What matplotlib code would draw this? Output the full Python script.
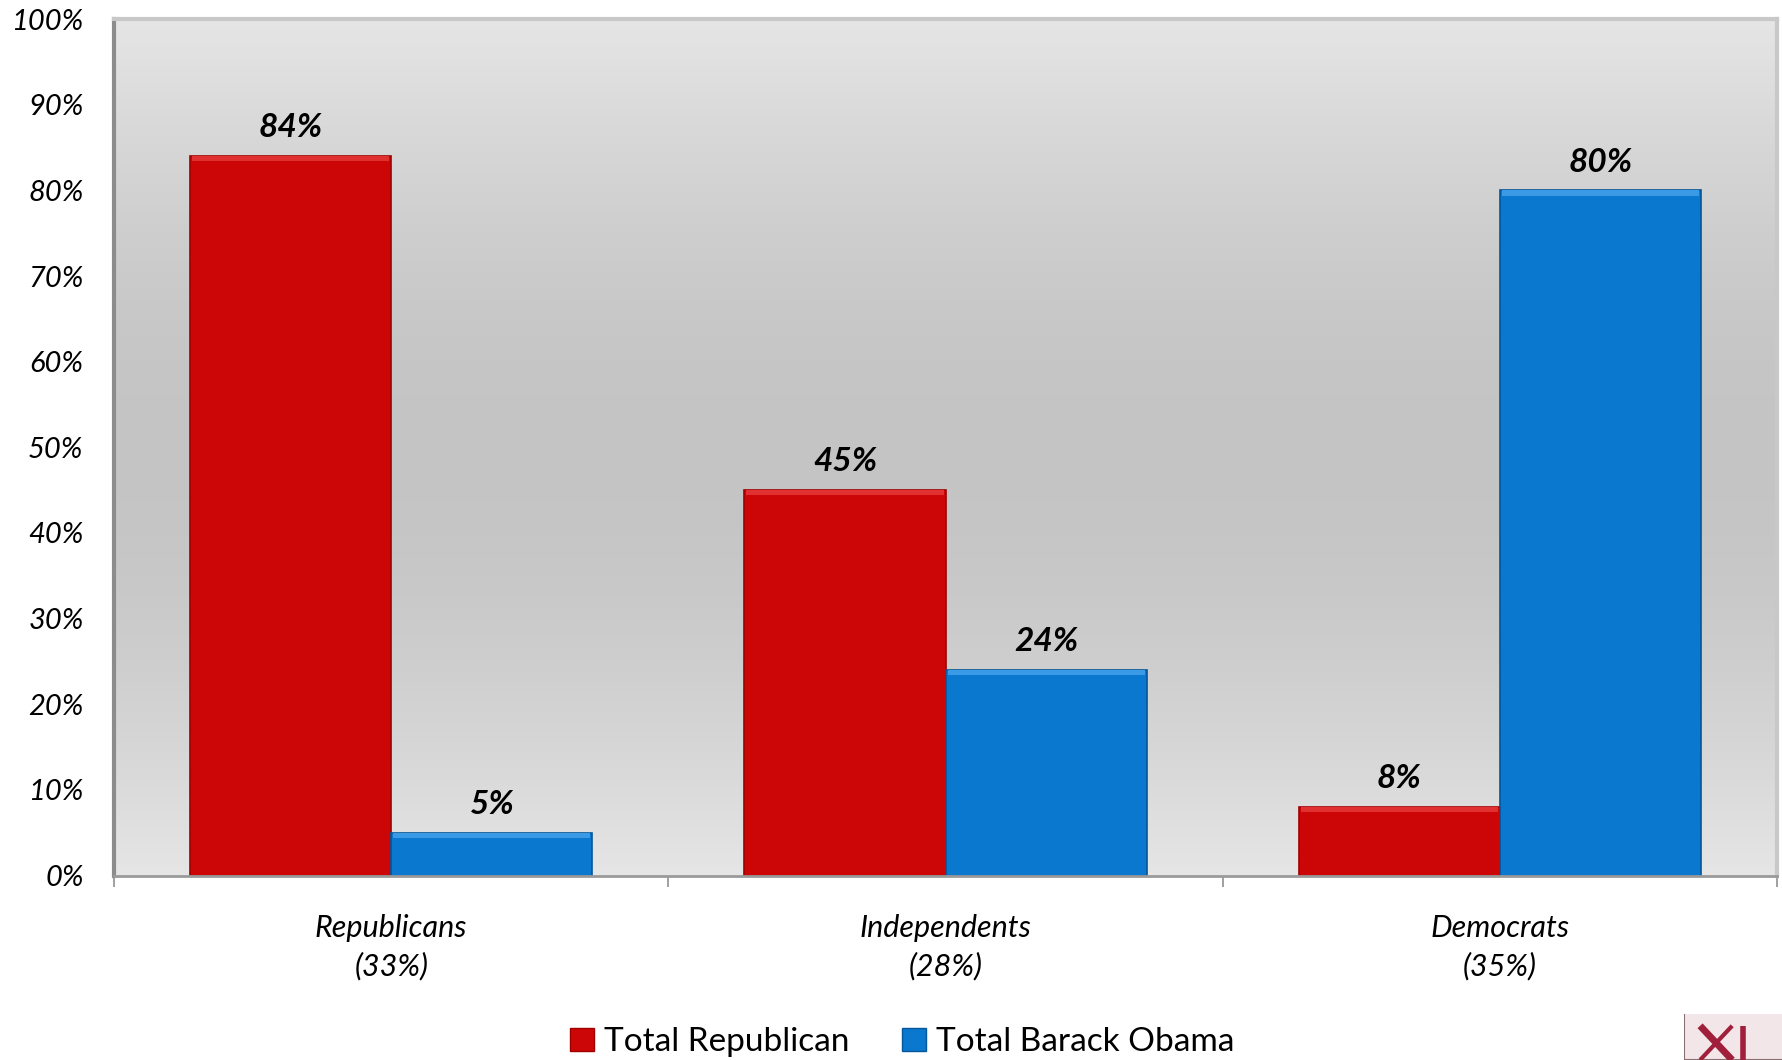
import numpy as np
import matplotlib.pyplot as plt
from matplotlib.patches import Rectangle

plt.rcParams['font.family'] = ['Lato', 'DejaVu Sans']

groups = ['Republicans\n(33%)', 'Independents\n(28%)', 'Democrats\n(35%)']
republican = [84, 45, 8]
obama = [5, 24, 80]
series_names = ['Total Republican', 'Total Barack Obama']
yticks = [0, 10, 20, 30, 40, 50, 60, 70, 80, 90, 100]

red = '#cc0606'
blue = '#0a78cf'

fig = plt.figure(figsize=(17.83, 10.6), dpi=100)
ax = fig.add_axes([0.064, 0.174, 0.9326, 0.808])

# gray vertical gradient behind the bars: light at top/bottom, darker in the middle
t = np.linspace(0, 1, 256)
shade = 0.90 - 0.13 * np.sin(np.pi * t)
grad = np.dstack([shade, shade, shade])
ax.imshow(grad.reshape(256, 1, 3), extent=[-0.5, 2.5, 0, 100], aspect='auto',
          origin='lower', zorder=0)

x = np.arange(len(groups))
w = 0.363
xr = x - w / 2
xb = x + w / 2

ax.bar(xr, republican, w, color=red, edgecolor='#a00000', linewidth=1.2, zorder=2)
ax.bar(xb, obama, w, color=blue, edgecolor='#05569a', linewidth=1.2, zorder=2)
# soft bevel along the bar tops
ax.bar(xr, [0.6] * 3, w * 0.98, bottom=np.array(republican) - 0.6,
       color='#e03030', linewidth=0, zorder=3)
ax.bar(xb, [0.6] * 3, w * 0.98, bottom=np.array(obama) - 0.6,
       color='#3a9ae6', linewidth=0, zorder=3)

for xi, v in zip(xr, republican):
    ax.text(xi, v + 1.6, f'{v}%', ha='center', va='bottom', fontsize=24,
            fontweight='bold', fontstyle='italic', color='black')
for xi, v in zip(xb, obama):
    ax.text(xi, v + 1.6, f'{v}%', ha='center', va='bottom', fontsize=24,
            fontweight='bold', fontstyle='italic', color='black')

ax.set_xlim(-0.5, 2.5)
ax.set_ylim(0, 100)
ax.set_yticks(yticks)
ax.set_yticklabels([f'{v}%' for v in yticks], fontsize=21, fontstyle='italic')
ax.tick_params(axis='y', length=0, pad=22)

ax.set_xticks([-0.5, 0.5, 1.5, 2.5])
ax.set_xticklabels([])
ax.tick_params(axis='x', length=8, color='#909090', width=1.2)
for xi, g in zip(x, groups):
    ax.text(xi, -4.5, g, ha='center', va='top', fontsize=22, fontstyle='italic',
            linespacing=1.4)

for side in ['top', 'right']:
    ax.spines[side].set_color('#c8c8c8')
    ax.spines[side].set_linewidth(3)
ax.spines['left'].set_color('#8c8c8c')
ax.spines['left'].set_linewidth(3)
ax.spines['bottom'].set_color('#9a9a9a')
ax.spines['bottom'].set_linewidth(2)

handles = [Rectangle((0, 0), 1, 1, facecolor=red, edgecolor='#a00000'),
           Rectangle((0, 0), 1, 1, facecolor=blue, edgecolor='#05569a')]
fig.legend(handles, series_names, loc='center', bbox_to_anchor=(0.506, 0.017),
           ncol=2, frameon=False, fontsize=24, handlelength=0.7, handleheight=0.7,
           handletextpad=0.3, columnspacing=1.6)

# corner logo, partly cut by the figure edge
logo = fig.add_axes([0.9445, 0.0, 0.06, 0.043])
logo.set_xlim(0, 1)
logo.set_ylim(0, 1)
logo.add_patch(Rectangle((0, 0), 1.0, 1.1, facecolor='#f3e6e8', edgecolor='#8a7070', lw=1.5))
logo.plot([0.15, 0.45], [0.75, 0.0], color='#a0203c', lw=5, solid_capstyle='butt')
logo.plot([0.45, 0.15], [0.75, 0.0], color='#a0203c', lw=3, solid_capstyle='butt')
logo.plot([0.55, 0.55], [0.75, 0.0], color='#a0203c', lw=4, solid_capstyle='butt')
logo.axis('off')

fig.savefig('out.png', dpi=100)
